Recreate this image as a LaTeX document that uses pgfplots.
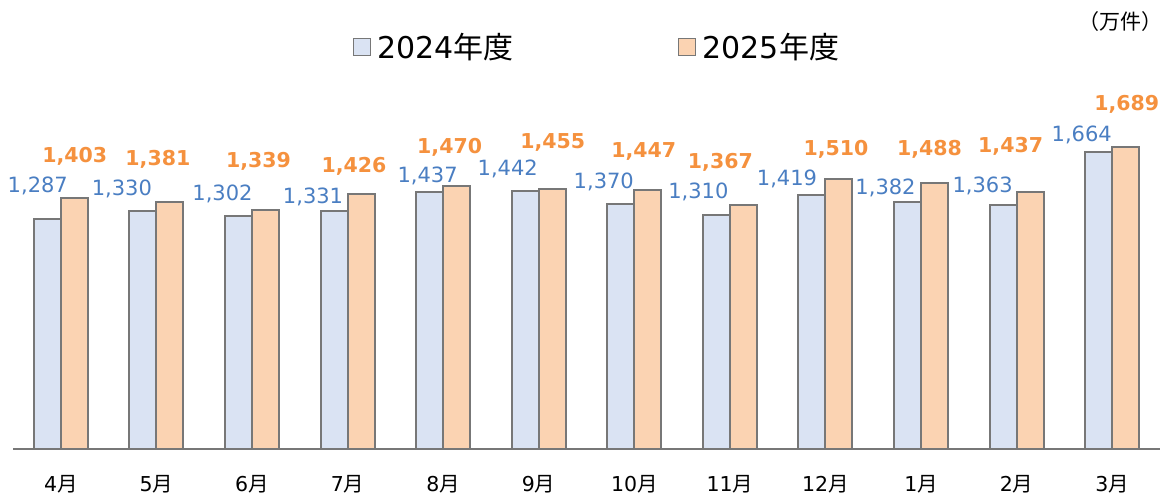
\documentclass[border=0pt]{standalone}
\usepackage{fontspec}
\usepackage{pgfplots}
\usepackage{pgfplotstable}
\pgfplotsset{compat=1.18}
\setmainfont{DejaVu Sans}
\newfontfamily\cjk{Noto Sans CJK JP}
\definecolor{fillA}{HTML}{DAE3F3}
\definecolor{fillB}{HTML}{FBD3B2}
\definecolor{edge}{HTML}{777777}
\definecolor{lblA}{HTML}{4A7EC2}
\definecolor{lblB}{HTML}{F5913E}

% x: month index, y: value, dx/dy: label offsets (pt)
\pgfplotstableread{
x y dx dy
0 1287 -9.5 27
1 1330 -21 16
2 1302 -16 16
3 1331 -21 8
4 1437 -2 10
5 1442 -17.5 16
6 1370 -17 16
7 1310 -18 16
8 1419 -25 10
9 1382 -22 8
10 1363 -20.5 13
11 1664 -17 10
}\seriesA
\pgfplotstableread{
x y dx dy
0 1403 0.5 36
1 1381 -12 37
2 1339 -7 42
3 1426 -7 22
4 1470 -7 33
5 1455 0.5 41
6 1447 -4 33
7 1367 -23 36
8 1510 -3 24
9 1488 -5 28
10 1437 -19.5 40
11 1689 1 37
}\seriesB

\begin{document}
\begin{tikzpicture}
\begin{axis}[
  at={(0pt,0pt)}, anchor=south west,
  scale only axis,
  width=1147pt, height=379pt,
  xmin=-0.5, xmax=11.5,
  ymin=0, ymax=2121,
  ybar=0pt, bar width=27pt,
  axis x line*=bottom,
  axis y line=none,
  x axis line style={draw=edge, line width=1.4pt, -},
  xtick={0,...,11},
  xticklabels={4{\cjk 月},5{\cjk 月},6{\cjk 月},7{\cjk 月},8{\cjk 月},9{\cjk 月},10{\cjk 月},11{\cjk 月},12{\cjk 月},1{\cjk 月},2{\cjk 月},3{\cjk 月}},
  major tick length=0pt,
  xticklabel style={anchor=base, yshift=-43pt, font=\fontsize{20.5}{20.5}\selectfont, inner sep=0pt},
  /pgf/number format/.cd, 1000 sep={,}, assume math mode=true, /pgfplots/.cd,
  clip=false,
  legend columns=2,
  legend style={at={(0.296,1.0607)}, anchor=west, draw=none, fill=none,
    font=\fontsize{30}{30}\selectfont, inner sep=0pt,
    /tikz/every even column/.append style={column sep=162pt}},
  legend image code/.code={\draw[#1, line width=1.6pt] (0pt,-8.5pt) rectangle (17pt,8.5pt); \path (21pt,0pt);},
]
\addplot[fill=fillA, draw=edge, line width=2pt,
  visualization depends on={\thisrow{dx} \as \dx},
  visualization depends on={\thisrow{dy} \as \dy},
  nodes near coords,
  every node near coord/.append style={anchor=base, xshift=\dx pt, yshift=\dy pt,
    text=lblA, font=\fontsize{21}{21}\selectfont, inner sep=0pt}]
  table[x=x, y=y] {\seriesA};
\addlegendentry{2024{\cjk 年度}}
\addplot[fill=fillB, draw=edge, line width=2pt,
  visualization depends on={\thisrow{dx} \as \dx},
  visualization depends on={\thisrow{dy} \as \dy},
  nodes near coords,
  every node near coord/.append style={anchor=base, xshift=\dx pt, yshift=\dy pt,
    text=lblB, font=\bfseries\fontsize{20.5}{20.5}\selectfont, inner sep=0pt}]
  table[x=x, y=y] {\seriesB};
\addlegendentry{2025{\cjk 年度}}
\node[anchor=west, inner sep=0pt, font=\cjk\fontsize{21}{21}\selectfont] at (rel axis cs:0.929,1.127) {（万件）};
\end{axis}
\pgfresetboundingbox
\path (-13pt,-48pt) rectangle (1151pt,449pt);
\end{tikzpicture}
\end{document}
